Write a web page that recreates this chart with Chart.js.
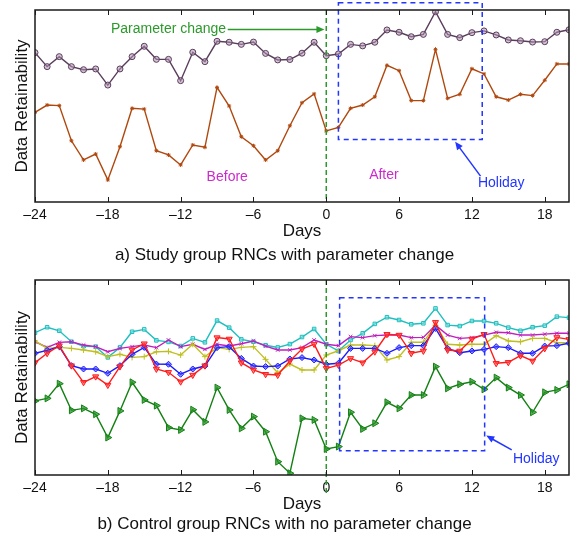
<!DOCTYPE html>
<html>
<head>
<meta charset="utf-8">
<script src="https://cdn.jsdelivr.net/npm/chart.js@4.4.1/dist/chart.umd.min.js"></script>
<style>
html, body { margin: 0; padding: 0; background: #fff; }
#wrap { position: relative; width: 577px; height: 533px; overflow: hidden; }
canvas { position: absolute; left: 0; }
#top { top: 0; }
#bottom { top: 266px; }
</style>
</head>
<body>
<div id="wrap">
<canvas id="top" width="577" height="266"></canvas>
<canvas id="bottom" width="577" height="267"></canvas>
</div>
<script>
// days relative to the parameter change
const days = [-24, -23, -22, -21, -20, -19, -18, -17, -16, -15, -14, -13, -12, -11, -10,
              -9, -8, -7, -6, -5, -4, -3, -2, -1, 0, 1, 2, 3, 4, 5, 6, 7, 8, 9, 10,
              11, 12, 13, 14, 15, 16, 17, 18, 19, 20];
const xTicks = [-24, -18, -12, -6, 0, 6, 12, 18];

// a) study group
const studyPurple = [77.8, 70.5, 75.7, 70.5, 68.9, 69.3, 60.9, 69.3, 75.7, 81.1,
                     74.3, 74.3, 63.2, 78.0, 73.1, 83.7, 83.2, 82.1, 83.3, 77.4,
                     74.0, 74.2, 77.5, 83.2, 76.2, 77.1, 82.1, 81.3, 83.2, 89.6,
                     88.4, 86.1, 87.3, 99.1, 87.3, 85.6, 88.2, 89.1, 87.0, 84.4,
                     84.0, 83.3, 83.5, 88.4, 89.7];
const studyBrown = [46.7, 50.5, 50.2, 31.9, 21.9, 25.0, 11.5, 28.8, 48.8, 48.4,
                    26.7, 24.5, 19.3, 29.7, 28.5, 59.7, 50.0, 34.0, 29.3, 21.9,
                    26.7, 39.7, 51.7, 56.3, 37.0, 38.9, 48.8, 50.5, 54.8, 71.2,
                    68.4, 52.8, 52.8, 79.5, 54.0, 56.1, 69.4, 66.7, 54.8, 53.1,
                    56.1, 55.4, 63.4, 71.9, 71.9];

// b) control group
const ctrlCyan = [73.1, 75.9, 74.1, 68.5, 66.2, 66.0, 60.5, 65.6, 73.6, 74.8,
                  69.2, 68.4, 66.3, 70.2, 68.2, 79.3, 75.7, 69.7, 68.5, 66.7,
                  65.6, 67.3, 70.9, 75.0, 67.2, 63.8, 69.4, 72.8, 77.6, 81.0,
                  79.6, 77.4, 77.9, 85.5, 77.0, 76.5, 79.1, 79.1, 77.9, 75.7,
                  74.1, 75.9, 76.7, 81.3, 80.8];
const ctrlMagenta = [68.5, 65.6, 68.2, 68.5, 66.8, 66.0, 63.4, 65.1, 66.0, 66.8,
                     65.5, 69.4, 66.0, 67.2, 64.6, 67.2, 66.3, 67.5, 68.9, 66.3,
                     64.3, 64.3, 65.5, 69.4, 67.2, 66.5, 71.1, 70.6, 71.6, 71.9,
                     71.9, 70.6, 70.7, 76.9, 71.9, 70.2, 70.6, 71.9, 73.3, 73.1,
                     71.9, 71.9, 72.4, 72.8, 72.8];
const ctrlYellow = [68.9, 65.1, 65.6, 65.1, 64.3, 63.4, 60.9, 62.1, 60.5, 60.9,
                    63.4, 63.6, 61.7, 67.2, 60.9, 65.5, 64.6, 65.6, 66.0, 59.5,
                    52.7, 57.1, 54.1, 54.1, 61.7, 63.9, 66.8, 66.8, 66.5, 59.2,
                    60.9, 68.2, 68.2, 76.9, 67.2, 66.8, 67.2, 67.2, 71.6, 68.9,
                    68.5, 70.2, 70.2, 68.0, 68.0];
const ctrlBlue = [62.6, 64.1, 66.0, 56.3, 54.6, 54.6, 52.4, 56.3, 62.1, 65.6,
                  57.1, 57.0, 51.9, 54.6, 56.1, 65.5, 66.0, 60.0, 56.1, 55.8,
                  56.1, 59.7, 60.4, 59.2, 57.0, 57.5, 65.1, 65.1, 65.1, 62.6,
                  65.5, 66.5, 66.5, 75.3, 65.1, 62.9, 63.8, 64.6, 66.0, 65.5,
                  62.6, 62.6, 66.3, 66.5, 67.7];
const ctrlRed = [57.8, 62.6, 66.5, 56.3, 47.8, 50.7, 46.4, 55.8, 64.3, 67.5,
                 54.6, 52.9, 48.1, 51.5, 56.3, 70.6, 69.9, 57.8, 54.1, 51.9,
                 51.5, 58.7, 64.8, 67.3, 54.9, 56.6, 60.0, 57.8, 63.4, 72.3,
                 71.9, 62.6, 63.8, 78.4, 64.3, 63.8, 69.9, 72.3, 57.5, 58.0,
                 61.4, 58.7, 65.1, 70.7, 69.7];
const ctrlGreen = [38.3, 39.6, 47.1, 33.5, 34.5, 31.5, 19.6, 33.2, 47.8, 38.8,
                   35.9, 24.7, 23.5, 33.8, 27.6, 45.1, 33.7, 24.3, 30.3, 22.6,
                   7.3, 1.4, 29.4, 28.6, 13.8, 15.0, 32.5, 24.0, 26.9, 37.6,
                   34.5, 41.3, 41.3, 55.8, 44.7, 46.8, 48.1, 44.2, 50.2, 45.1,
                   41.3, 32.5, 42.7, 43.9, 46.8];

const FONT = "'Liberation Sans', Arial, Helvetica, sans-serif";
const GREEN = '#2b9a2b';
const BLUE = '#2236ff';
const MAGENTA = '#cc2acc';

function pts(vals) {
    return vals.map((v, i) => ({ x: days[i], y: v }));
}

function arrow(ctx, x0, y0, x1, y1, color) {
    const ang = Math.atan2(y1 - y0, x1 - x0);
    const len = 8, wid = 3.5;
    ctx.strokeStyle = color;
    ctx.fillStyle = color;
    ctx.lineWidth = 1.5;
    ctx.setLineDash([]);
    ctx.beginPath();
    ctx.moveTo(x0, y0);
    ctx.lineTo(x1 - Math.cos(ang) * len * 0.8, y1 - Math.sin(ang) * len * 0.8);
    ctx.stroke();
    ctx.beginPath();
    ctx.moveTo(x1, y1);
    ctx.lineTo(x1 - Math.cos(ang) * len - Math.sin(ang) * wid, y1 - Math.sin(ang) * len + Math.cos(ang) * wid);
    ctx.lineTo(x1 - Math.cos(ang) * len + Math.sin(ang) * wid, y1 - Math.sin(ang) * len - Math.cos(ang) * wid);
    ctx.closePath();
    ctx.fill();
}

// frame with inward ticks, plus the notes drawn on top of the data
function notesPlugin(notes) {
    return {
        id: 'notes',
        afterDraw(chart) {
            const ctx = chart.ctx;
            const a = chart.chartArea;
            const x = chart.scales.x, y = chart.scales.y;
            ctx.save();

            // parameter change line
            const vx = x.getPixelForValue(0);
            ctx.strokeStyle = GREEN;
            ctx.lineWidth = 1.5;
            ctx.setLineDash([5, 3]);
            ctx.beginPath();
            ctx.moveTo(vx, a.top);
            ctx.lineTo(vx, a.bottom + notes.below);
            ctx.stroke();

            // holiday box
            const b = notes.box;
            ctx.strokeStyle = BLUE;
            ctx.setLineDash([5, 4]);
            const bx0 = x.getPixelForValue(b.x0), bx1 = x.getPixelForValue(b.x1);
            const by0 = y.getPixelForValue(b.y0), by1 = y.getPixelForValue(b.y1);
            ctx.strokeRect(bx0, by1, bx1 - bx0, by0 - by1);

            notes.arrows.forEach(n => {
                arrow(ctx, x.getPixelForValue(n.x0), y.getPixelForValue(n.y0),
                      x.getPixelForValue(n.x1), y.getPixelForValue(n.y1), n.color);
            });

            ctx.font = '14px ' + FONT;
            ctx.textBaseline = 'middle';
            notes.texts.forEach(t => {
                ctx.fillStyle = t.color;
                ctx.textAlign = t.align;
                ctx.fillText(t.text, x.getPixelForValue(t.x), y.getPixelForValue(t.y));
            });

            // box and ticks
            ctx.setLineDash([]);
            ctx.strokeStyle = '#1a1a1a';
            ctx.lineWidth = 1.5;
            ctx.strokeRect(a.left, a.top, a.right - a.left, a.bottom - a.top);
            ctx.lineWidth = 1;
            xTicks.forEach(v => {
                const px = Math.round(x.getPixelForValue(v)) + 0.5;
                ctx.beginPath();
                ctx.moveTo(px, a.bottom);
                ctx.lineTo(px, a.bottom - 5);
                ctx.moveTo(px, a.top);
                ctx.lineTo(px, a.top + 5);
                ctx.stroke();
            });
            ctx.restore();
        }
    };
}

function makeChart(id, datasets, yMin, yMax, caption, notes, geo) {
    return new Chart(document.getElementById(id), {
        type: 'line',
        data: { datasets: datasets },
        options: {
            responsive: false,
            animation: false,
            layout: { padding: { top: geo.top, right: 8, bottom: geo.bottom, left: 0 } },
            scales: {
                x: {
                    type: 'linear',
                    min: -24,
                    max: 20,
                    afterBuildTicks: ax => { ax.ticks = xTicks.map(v => ({ value: v })); },
                    afterFit: ax => { ax.height = geo.xh; },
                    grid: { display: false, drawTicks: false },
                    border: { display: false },
                    ticks: {
                        padding: geo.tickPad,
                        maxRotation: 0,
                        autoSkip: false,
                        color: '#111',
                        font: { family: FONT, size: 14, lineHeight: 1 },
                        callback: v => v < 0 ? '\u2013' + Math.abs(v) : String(v)
                    },
                    title: {
                        display: true,
                        text: 'Days',
                        color: '#111',
                        font: { family: FONT, size: 17, lineHeight: 1 },
                        padding: { top: 0, bottom: geo.daysPad }
                    }
                },
                y: {
                    min: yMin,
                    max: yMax,
                    afterFit: ax => { ax.width = 35; },
                    grid: { display: false, drawTicks: false },
                    border: { display: false },
                    ticks: { display: false },
                    title: {
                        display: true,
                        text: 'Data Retainability',
                        color: '#111',
                        font: { family: FONT, size: 17, lineHeight: 1 },
                        padding: { top: 14, bottom: 0 }
                    }
                }
            },
            plugins: {
                legend: { display: false },
                tooltip: { enabled: false },
                title: {
                    display: true,
                    position: 'bottom',
                    text: caption,
                    color: '#111',
                    font: { family: FONT, size: 17, weight: 'normal', lineHeight: 1 },
                    padding: 0
                }
            }
        },
        plugins: [notesPlugin(notes)]
    });
}

function series(vals, color, fill, style, radius, rot) {
    return {
        data: pts(vals),
        borderColor: color,
        backgroundColor: fill,
        borderWidth: 1.4,
        pointStyle: style,
        pointRadius: radius,
        pointRotation: rot || 0,
        pointBorderWidth: 1,
        pointBorderColor: color,
        pointBackgroundColor: fill,
        tension: 0
    };
}

makeChart('top', [
    series(studyPurple, '#5a3d5c', 'rgba(175,145,175,0.55)', 'circle', 3),
    series(studyBrown, '#b0480e', '#b0480e', 'star', 2)
], 0, 100, 'a) Study group RNCs with parameter change', {
    below: 0,
    box: { x0: 1, x1: 12.85, y0: 32.6, y1: 103.8 },
    arrows: [
        { x0: -8.12, y0: 89.9, x1: -0.15, y1: 89.9, color: GREEN },
        { x0: 12.71, y0: 13.5, x1: 10.62, y1: 31.4, color: BLUE }
    ],
    texts: [
        { text: 'Parameter change', x: -17.74, y: 89.9, color: GREEN, align: 'left' },
        { text: 'Before', x: -8.16, y: 13.2, color: MAGENTA, align: 'center' },
        { text: 'After', x: 4.75, y: 14.1, color: MAGENTA, align: 'center' },
        { text: 'Holiday', x: 14.42, y: 9.7, color: BLUE, align: 'center' }
    ]
}, { top: 10, bottom: 2.5, xh: 44.5, tickPad: 6, daysPad: 7 });

makeChart('bottom', [
    series(ctrlRed, '#ff1a1a', 'rgba(255,70,70,0.6)', 'triangle', 3.5, 180),
    series(ctrlBlue, '#1a1aff', 'rgba(60,60,255,0.55)', 'rectRot', 3),
    series(ctrlYellow, '#bfbf1f', '#bfbf1f', 'cross', 3),
    series(ctrlMagenta, '#bf1fbf', '#bf1fbf', 'crossRot', 2.5),
    series(ctrlCyan, '#1fbfbf', 'rgba(140,225,225,0.6)', 'rect', 2.5),
    series(ctrlGreen, '#138013', 'rgba(40,150,40,0.75)', 'triangle', 4, 90)
], 0.5, 100, 'b) Control group RNCs with no parameter change', {
    below: 21,
    box: { x0: 1.1, x1: 13.05, y0: 12.9, y1: 91.0 },
    arrows: [
        { x0: 15.28, y0: 13.3, x1: 13.18, y1: 20.6, color: BLUE }
    ],
    texts: [
        { text: 'Holiday', x: 17.3, y: 8.7, color: BLUE, align: 'center' }
    ]
}, { top: 14, bottom: 0.5, xh: 40.5, tickPad: 6, daysPad: 3 });
</script>
</body>
</html>
